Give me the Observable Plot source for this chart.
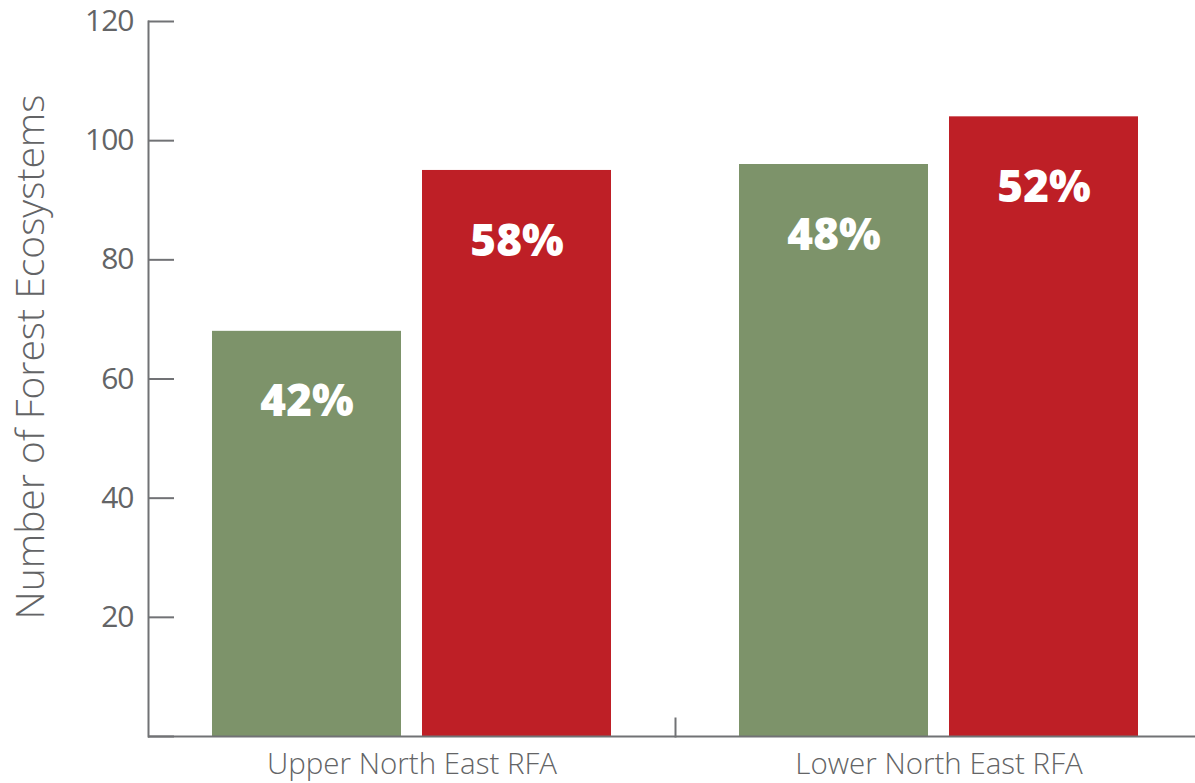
<!DOCTYPE html>
<html><head><meta charset="utf-8">
<script src="https://cdn.jsdelivr.net/npm/d3@7"></script>
<script src="https://cdn.jsdelivr.net/npm/@observablehq/plot@0.6"></script>
<style>
html,body{margin:0;padding:0;background:#fff;overflow:hidden;}
g[aria-label="y-axis tick label"] text{letter-spacing:-1px;}
</style>
</head><body><div id="chart"></div>
<script>
const groups = ["Upper North East RFA", "Lower North East RFA"];
const series = ["Series 1", "Series 2"];
const greenValues = [68, 96];
const redValues = [95, 104];
const greenPct = ["42%", "48%"];
const redPct = ["58%", "52%"];
const yTicks = [20, 40, 60, 80, 100, 120];
const yLabel = "Number of Forest Ecosystems";
const colors = ["#7d936a", "#be1f26"];

const rows = groups.flatMap((g, i) => [
  {group: g, series: series[0], value: greenValues[i], pct: greenPct[i]},
  {group: g, series: series[1], value: redValues[i], pct: redPct[i]}
]);

const axisColor = "#717275";
const textColor = "#636466";

const chart = Plot.plot({
  width: 1195, height: 783,
  marginLeft: 148, marginRight: -7, marginTop: 21, marginBottom: 47,
  style: {fontFamily: "'Open Sans', sans-serif", background: "#fff", overflow: "hidden"},
  fx: {domain: groups, padding: 0, label: null},
  x: {domain: series, paddingInner: 0.0995, paddingOuter: 0.2986, axis: null},
  y: {domain: [0, 120]},
  color: {domain: series, range: colors},
  marks: [
    Plot.barY(rows, {fx: "group", x: "series", y: "value", fill: "series"}),
    Plot.text(rows, {fx: "group", x: "series", y: "value", text: "pct", dy: 71, lineAnchor: "middle",
      fill: "white", fontSize: 44, fontWeight: 800}),
    Plot.ruleY([0], {stroke: axisColor, strokeWidth: 2}),
    Plot.frame({anchor: "left", fx: groups[0], stroke: axisColor, strokeWidth: 2}),
    Plot.axisY({ticks: [0, ...yTicks], tickSize: -26, fill: "none", stroke: axisColor, strokeWidth: 2, label: null}),
    Plot.axisY({ticks: yTicks, tickSize: 0, tickPadding: 15, fill: textColor, fontSize: 30, label: null}),
    Plot.axisFx({anchor: "bottom", tickSize: 0, tickPadding: 17, fontSize: 29.5, fontWeight: 300, fill: textColor, label: null}),
    Plot.frame({anchor: "left", fx: groups[1], insetTop: 697, stroke: axisColor, strokeWidth: 2}),
    Plot.text([yLabel], {fx: [groups[0]], frameAnchor: "left", textAnchor: "middle", rotate: -90, dx: -117, dy: -22,
      fontSize: 39, fontWeight: 300, fill: textColor})
  ]
});
document.getElementById("chart").appendChild(chart);
</script>
</body></html>
